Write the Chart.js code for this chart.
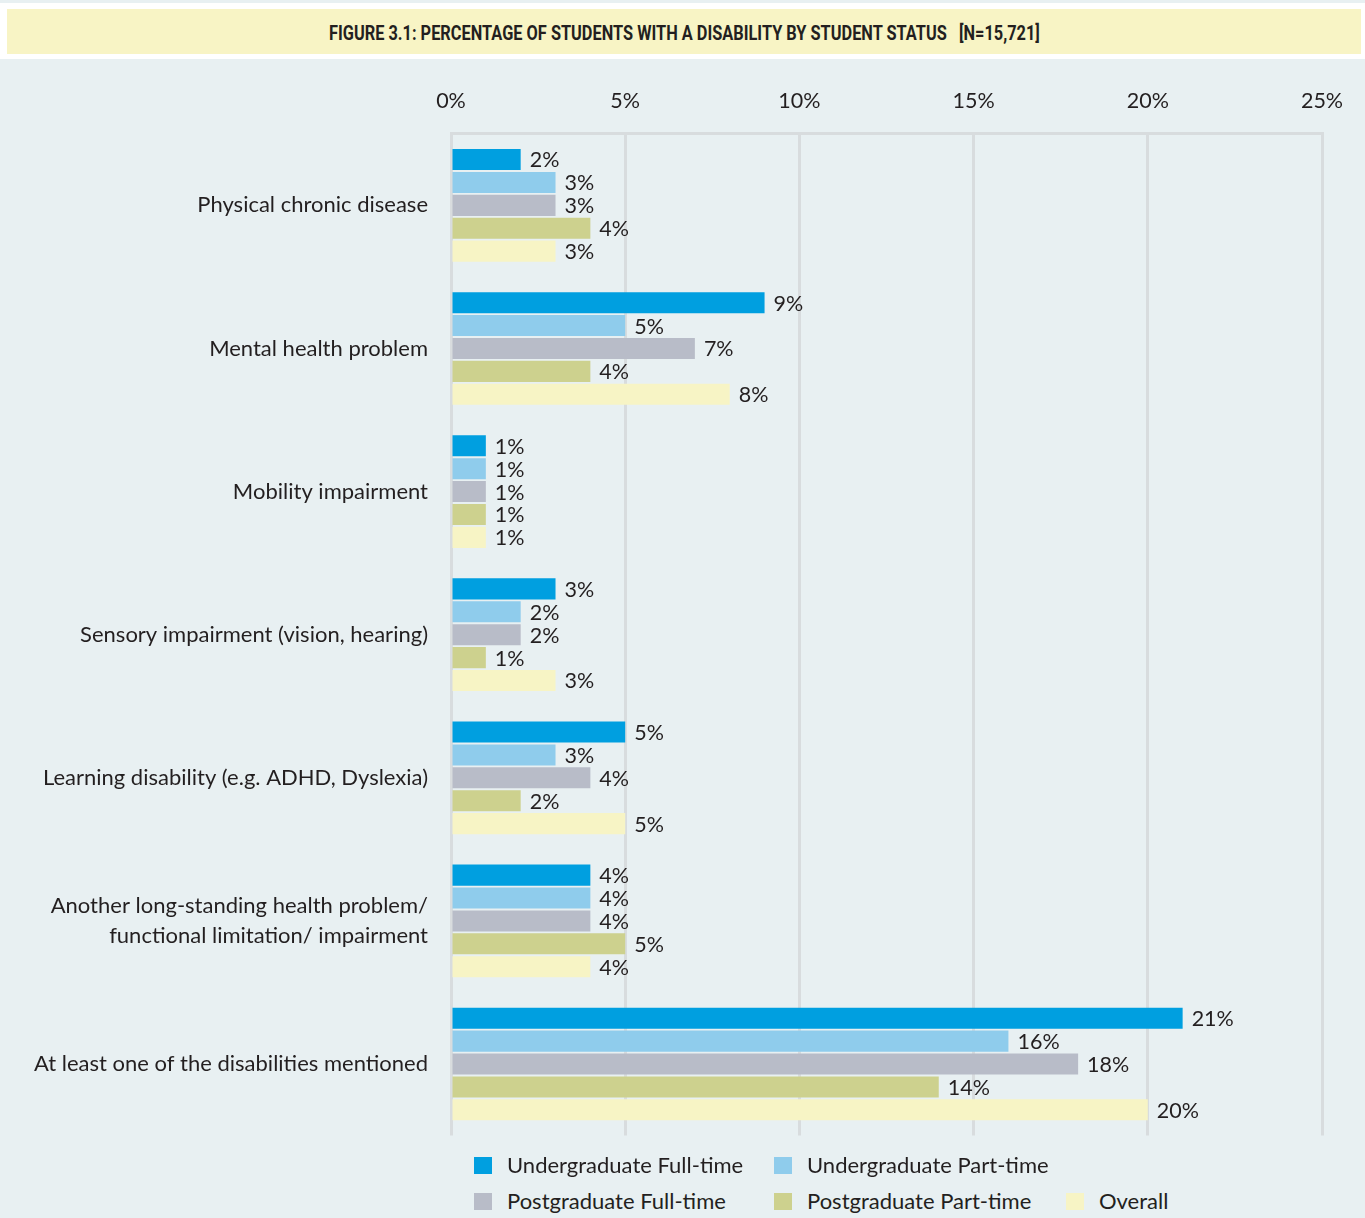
<!DOCTYPE html>
<html>
<head>
<meta charset="utf-8">
<script src="https://cdn.jsdelivr.net/npm/chart.js@4"></script>
<style>
  body { margin: 0; background: #e8f0f2; width: 1365px; height: 1218px; overflow: hidden; font-family: Lato, sans-serif; color: #231f20; }
  #titleWrap { position: absolute; left: 0; top: 3px; width: 1365px; height: 56px; background: #fff; }
  #titleBar { position: absolute; left: 7px; top: 6px; width: 1354px; height: 45px; background: #f8f4c5; overflow: hidden; }
  #title { position: absolute; left: 0; top: 13px; white-space: pre; font-family: Roboto, sans-serif; font-weight: bold; font-size: 21px; line-height: 22px; transform-origin: 0 0; }
  #chartBox { position: absolute; left: 0; top: 60px; width: 1365px; height: 1106px; }
  .leg { position: absolute; font-size: 22px; line-height: 26px; white-space: nowrap; }
  .leg span { display: inline-block; width: 18px; height: 17px; vertical-align: -1px; margin-right: 15px; }
</style>
</head>
<body>
<div id="titleWrap"><div id="titleBar"><div id="title">FIGURE 3.1: PERCENTAGE OF STUDENTS WITH A DISABILITY BY STUDENT STATUS   [N=15,721]</div></div></div>
<div id="chartBox"><canvas id="chart"></canvas></div>
<div id="legend"></div>
<script>
// --- Data ---
const categories = [
  "Physical chronic disease",
  "Mental health problem",
  "Mobility impairment",
  "Sensory impairment (vision, hearing)",
  "Learning disability (e.g. ADHD, Dyslexia)",
  ["Another long-standing health problem/", "functional limitation/ impairment"],
  "At least one of the disabilities mentioned"
];
const seriesNames = ["Undergraduate Full-time", "Undergraduate Part-time", "Postgraduate Full-time", "Postgraduate Part-time", "Overall"];
const ugFullTime = [2, 9, 1, 3, 5, 4, 21];
const ugPartTime = [3, 5, 1, 2, 3, 4, 16];
const pgFullTime = [3, 7, 1, 2, 4, 4, 18];
const pgPartTime = [4, 4, 1, 1, 2, 5, 14];
const overall = [3, 8, 1, 3, 5, 4, 20];
const tickValues = [0, 5, 10, 15, 20, 25];
const colors = ["#009fe0", "#8fccec", "#b8bcc8", "#cdd18e", "#f7f4c5"];

// title is a condensed face in the original, squeeze it to fit
const title = document.getElementById("title");
const tw = title.scrollWidth;
title.style.transform = "scaleX(" + (711 / tw) + ")";
title.style.left = (329 - 7) + "px";

// legend (two rows, column aligned like the figure)
const legPos = [[474, 1152], [774, 1152], [474, 1188], [774, 1188], [1066, 1188]];
document.getElementById("legend").innerHTML = seriesNames.map((n, i) =>
  `<div class="leg" style="left:${legPos[i][0]}px;top:${legPos[i][1]}px"><span style="background:${colors[i]}"></span>${n}</div>`
).join("");

const valueLabels = {
  id: "valueLabels",
  afterDatasetsDraw(chart) {
    const ctx = chart.ctx;
    ctx.save();
    ctx.font = "21.5px Lato";
    ctx.fillStyle = "#231f20";
    ctx.textAlign = "left";
    ctx.textBaseline = "middle";
    chart.data.datasets.forEach((ds, i) => {
      chart.getDatasetMeta(i).data.forEach((bar, j) => {
        ctx.fillText(ds.data[j] + "%", bar.x + 9, bar.y + 1);
      });
    });
    ctx.restore();
  }
};

const allSeries = [ugFullTime, ugPartTime, pgFullTime, pgPartTime, overall];

new Chart(document.getElementById("chart"), {
  type: "bar",
  data: {
    labels: categories,
    datasets: allSeries.map((d, i) => ({
      label: seriesNames[i],
      data: d,
      backgroundColor: colors[i],
      borderWidth: 0,
      categoryPercentage: 0.8,
      barPercentage: 0.92
    }))
  },
  options: {
    indexAxis: "y",
    responsive: true,
    maintainAspectRatio: false,
    animation: false,
    layout: { padding: { top: 8, right: 43, bottom: 12, left: 0 } },
    plugins: { legend: { display: false }, tooltip: { enabled: false } },
    scales: {
      x: {
        position: "top",
        min: 0,
        max: 25,
        afterBuildTicks(scale) { scale.ticks = tickValues.map(v => ({ value: v })); },
        ticks: { callback: v => v + "%", font: { family: "Lato", size: 21.5 }, color: "#231f20", padding: 20 },
        grid: { color: "#d8dcde", lineWidth: 3, drawTicks: false },
        border: { display: true, color: "#d8dcde", width: 3 }
      },
      y: {
        afterFit(scale) { scale.width = 451; },
        ticks: { font: { family: "Lato", size: 22, lineHeight: 1.4 }, color: "#231f20", padding: 15 },
        grid: { display: false },
        border: { display: false }
      }
    }
  },
  plugins: [valueLabels]
});
</script>
</body>
</html>
